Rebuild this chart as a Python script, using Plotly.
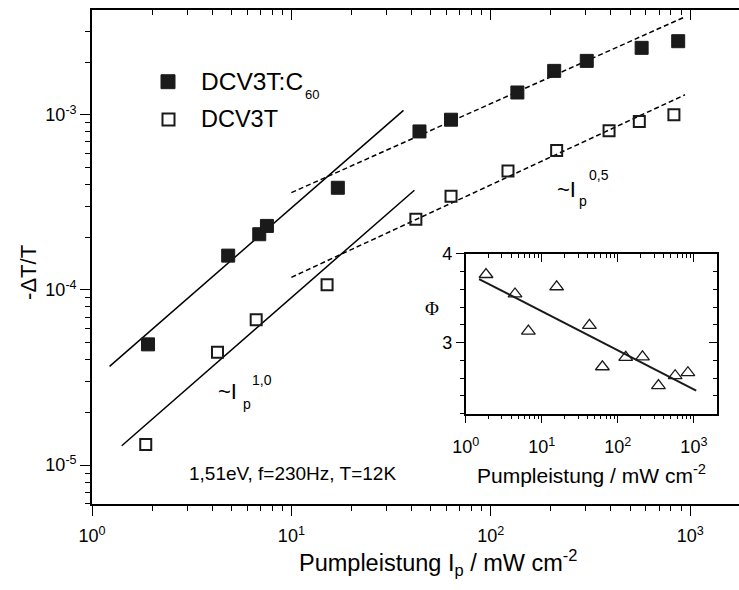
import plotly.graph_objects as go

W, H = 739, 590
ML, MR, MT, MB = 92, 0, 8, 86
PW, PH = W - ML - MR, H - MT - MB

FONT = "Liberation Sans, Arial, sans-serif"

# ---------------- data ----------------
c60_I = [1.91, 4.82, 6.9, 7.54, 17.1, 43.9, 63.2, 136, 208, 303, 571, 871]
c60_dT = [4.89e-5, 1.57e-4, 2.08e-4, 2.32e-4, 3.83e-4, 8.03e-4, 9.37e-4,
          1.34e-3, 1.78e-3, 2.03e-3, 2.41e-3, 2.63e-3]
dcv_I = [1.86, 4.26, 6.66, 15.1, 42.1, 63.2, 122, 214, 392, 556, 829]
dcv_dT = [1.31e-5, 4.41e-5, 6.76e-5, 1.07e-4, 2.53e-4, 3.43e-4, 4.77e-4,
          6.26e-4, 8.11e-4, 9.16e-4, 1.0e-3]

# fit lines (end points)
fit1_c60_I = [1.225, 36.5]
fit1_c60 = [3.66e-5, 1.06e-3]
fit1_dcv_I = [1.41, 41.4]
fit1_dcv = [1.29e-5, 3.71e-4]
fit05_c60_I = [10, 942]
fit05_c60 = [3.59e-4, 3.62e-3]
fit05_dcv_I = [10, 942]
fit05_dcv = [1.18e-4, 1.30e-3]

# inset
phi_I = [1.85, 4.45, 6.67, 15.7, 42.3, 62.7, 127, 211, 342, 567, 834]
phi = [3.766, 3.547, 3.129, 3.628, 3.193, 2.728, 2.833, 2.839, 2.516, 2.627, 2.661]
phifit_I = [1.5, 1072]
phifit = [3.714, 2.460]

x_major = [1, 10, 100, 1000]
x_major_text = ["10<sup>0</sup>", "10<sup>1</sup>", "10<sup>2</sup>", "10<sup>3</sup>"]
y_major = [1e-5, 1e-4, 1e-3]
y_major_text = ["10<sup>-5</sup>", "10<sup>-4</sup>", "10<sup>-3</sup>"]
phi_major = [3, 4]


def px2x(px):
    return (px - ML) / PW


def px2y(py):
    return (H - MB - py) / PH


x_minor = [m * 10 ** d for d in range(0, 3) for m in range(2, 10)]
y_minor = [m * 10.0 ** d for d in range(-6, -2) for m in range(2, 10)]

fig = go.Figure()

# main fits
fig.add_trace(go.Scatter(x=fit1_c60_I, y=fit1_c60, mode="lines",
                         line=dict(color="black", width=1.5), showlegend=False))
fig.add_trace(go.Scatter(x=fit1_dcv_I, y=fit1_dcv, mode="lines",
                         line=dict(color="black", width=1.5), showlegend=False))
fig.add_trace(go.Scatter(x=fit05_c60_I, y=fit05_c60, mode="lines",
                         line=dict(color="black", width=1.5, dash="5px,3px"), showlegend=False))
fig.add_trace(go.Scatter(x=fit05_dcv_I, y=fit05_dcv, mode="lines",
                         line=dict(color="black", width=1.5, dash="5px,3px"), showlegend=False))

# main data
fig.add_trace(go.Scatter(x=c60_I, y=c60_dT, mode="markers", name="DCV3T:C60",
                         marker=dict(symbol="square", size=13, color="#1a1a1a",
                                     line=dict(color="#1a1a1a", width=1)),
                         showlegend=False))
fig.add_trace(go.Scatter(x=dcv_I, y=dcv_dT, mode="markers", name="DCV3T",
                         marker=dict(symbol="square-open", size=11, color="#1a1a1a",
                                     line=dict(color="#1a1a1a", width=2)),
                         showlegend=False))

# dummy trace for top mirror axis of main plot
fig.add_trace(go.Scatter(x=[None], y=[None], xaxis="x3", yaxis="y",
                         showlegend=False, hoverinfo="skip"))

# inset
fig.add_trace(go.Scatter(x=phifit_I, y=phifit, mode="lines", xaxis="x2", yaxis="y2",
                         line=dict(color="#1a1a1a", width=2), showlegend=False))
fig.add_trace(go.Scatter(x=phi_I, y=phi, mode="markers", xaxis="x2", yaxis="y2",
                         marker=dict(symbol="triangle-up-open", size=12, color="#1a1a1a",
                                     line=dict(color="#1a1a1a", width=1.3)),
                         showlegend=False))
fig.add_trace(go.Scatter(x=[None], y=[None], xaxis="x4", yaxis="y4",
                         showlegend=False, hoverinfo="skip"))


def axline(color="black"):
    return dict(showline=True, linecolor=color, linewidth=1.6, showgrid=False,
                zeroline=False, tickcolor="black", tickwidth=1.4)


tickfont = dict(family=FONT, size=18, color="black")

inset_x = [px2x(465.7), px2x(716.7)]
inset_y = [px2y(413.3), px2y(252.7)]

fig.update_layout(
    width=W, height=H,
    margin=dict(l=ML, r=MR, t=MT, b=MB, pad=0),
    paper_bgcolor="white", plot_bgcolor="white",
    font=dict(family=FONT, color="black"),
    xaxis=dict(type="log", range=[0, 3.245], domain=[0, 1], anchor="y",
               ticks="outside", ticklen=10, tickmode="array", tickvals=x_major,
               ticktext=x_major_text, tickfont=tickfont, ticklabelstandoff=5,
               minor=dict(ticks="outside", ticklen=5, tickmode="array", tickvals=x_minor,
                          tickcolor="black", tickwidth=1.2),
               **axline()),
    xaxis3=dict(type="log", range=[0, 3.245], overlaying="x", side="top", anchor="y",
                ticks="inside", ticklen=10, tickmode="array", tickvals=x_major,
                showticklabels=False,
                minor=dict(ticks="inside", ticklen=5, tickmode="array", tickvals=x_minor,
                           tickcolor="black", tickwidth=1.2),
                **axline()),
    yaxis=dict(type="log", range=[-5.222, -2.402], domain=[0, 1], anchor="x",
               ticks="outside", ticklen=10, tickmode="array", tickvals=y_major,
               ticktext=y_major_text, tickfont=tickfont,
               minor=dict(ticks="outside", ticklen=5, tickmode="array", tickvals=y_minor,
                          tickcolor="black", tickwidth=1.2),
               **axline()),
    xaxis2=dict(type="log", range=[0, 3.30], domain=inset_x, anchor="y2",
                ticks="outside", ticklen=8, tickmode="array", tickvals=x_major,
                ticktext=x_major_text, tickfont=tickfont, ticklabelstandoff=8,
                minor=dict(ticks="outside", ticklen=4, tickmode="array", tickvals=x_minor,
                           tickcolor="black", tickwidth=1.2),
                **axline()),
    yaxis2=dict(range=[2.2, 4.0], domain=inset_y, anchor="x2",
                ticks="outside", ticklen=8, tickmode="array", tickvals=phi_major,
                tickfont=tickfont,
                minor=dict(ticks="outside", ticklen=4, dtick=0.2,
                           tickcolor="black", tickwidth=1.2),
                **axline()),
    xaxis4=dict(type="log", range=[0, 3.30], overlaying="x2", side="top", anchor="y2",
                ticks="inside", ticklen=8, tickmode="array", tickvals=x_major,
                showticklabels=False,
                minor=dict(ticks="inside", ticklen=4, tickmode="array", tickvals=x_minor,
                           tickcolor="black", tickwidth=1.2),
                **axline()),
    yaxis4=dict(range=[2.2, 4.0], overlaying="y2", side="right", anchor="x2",
                ticks="inside", ticklen=8, tickmode="array", tickvals=phi_major,
                showticklabels=False,
                minor=dict(ticks="inside", ticklen=4, dtick=0.2,
                           tickcolor="black", tickwidth=1.2),
                **axline()),
)

ann = []


def text(s, x, y, size, xanchor="left", yanchor="middle", family=FONT, angle=0):
    ann.append(dict(text=s, x=px2x(x), y=px2y(y), xref="paper", yref="paper",
                    xanchor=xanchor, yanchor=yanchor, showarrow=False, textangle=angle,
                    font=dict(family=family, size=size, color="black")))


# axis titles
text("Pumpleistung I<sub>p</sub> / mW cm<sup>-2</sup>", 438, 563, 23.5, xanchor="center")
text("-ΔT/T", 29, 272, 22, xanchor="center", angle=-90)
text("Pumpleistung / mW cm<sup>-2</sup>", 591, 474, 21, xanchor="center")
text("Φ", 431.5, 308, 19, xanchor="center", family="Liberation Serif, Times New Roman, serif")

# legend text
text("DCV3T:C", 199, 80, 24.5)
text("60", 303, 93, 13)
text("DCV3T", 199, 117, 23.5)

# power-law labels
text("~I", 216, 391, 22)
text("p", 241, 404, 14)
text("1,0", 250, 379, 14)
text("~I", 555, 188, 22)
text("p", 577, 200, 14)
text("0,5", 587, 174, 14)

text("1,51eV, f=230Hz, T=12K", 292, 473, 19, xanchor="center")

fig.update_layout(annotations=ann)

# legend symbols
shapes = [
    dict(type="rect", xref="paper", yref="paper",
         x0=px2x(161), x1=px2x(175), y0=px2y(87), y1=px2y(73),
         fillcolor="#1a1a1a", line=dict(color="#1a1a1a", width=1)),
    dict(type="rect", xref="paper", yref="paper",
         x0=px2x(162.5), x1=px2x(174.5), y0=px2y(124), y1=px2y(112),
         fillcolor="rgba(0,0,0,0)", line=dict(color="#1a1a1a", width=2)),
]
fig.update_layout(shapes=shapes)

fig.write_html("out.html")
